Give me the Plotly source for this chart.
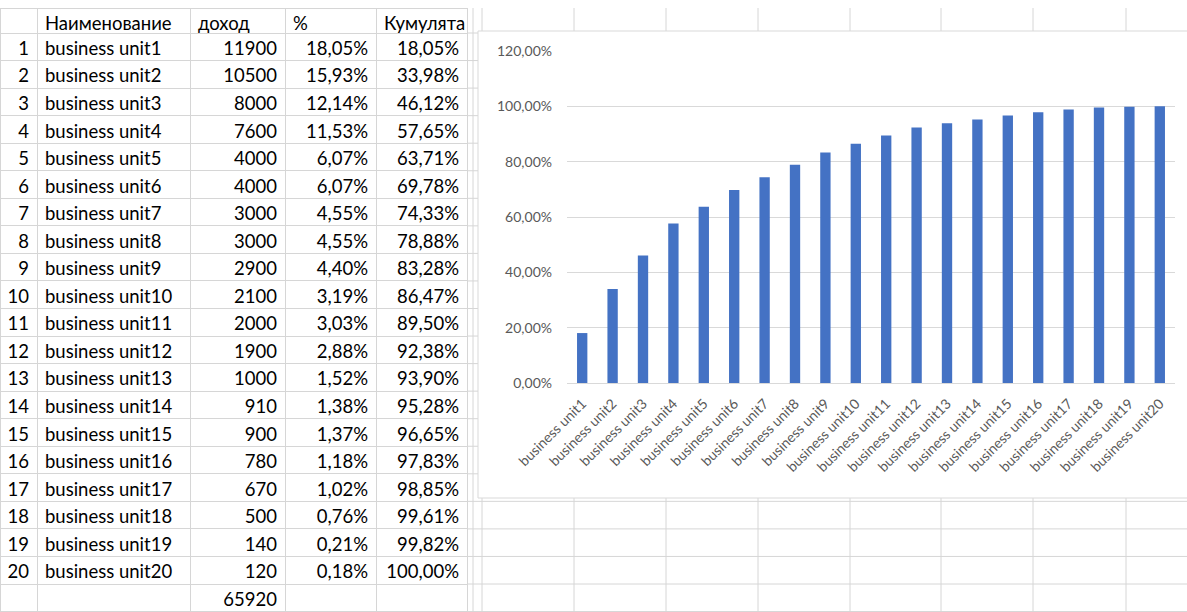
import plotly.graph_objects as go

# ---------------- data ----------------
row_numbers = ["1", "2", "3", "4", "5", "6", "7", "8", "9", "10",
               "11", "12", "13", "14", "15", "16", "17", "18", "19", "20", ""]
units = ["business unit1", "business unit2", "business unit3", "business unit4",
         "business unit5", "business unit6", "business unit7", "business unit8",
         "business unit9", "business unit10", "business unit11", "business unit12",
         "business unit13", "business unit14", "business unit15", "business unit16",
         "business unit17", "business unit18", "business unit19", "business unit20"]
income = [11900, 10500, 8000, 7600, 4000, 4000, 3000, 3000, 2900, 2100,
          2000, 1900, 1000, 910, 900, 780, 670, 500, 140, 120]
income_total = 65920
share_pct = ["18,05%", "15,93%", "12,14%", "11,53%", "6,07%", "6,07%", "4,55%",
             "4,55%", "4,40%", "3,19%", "3,03%", "2,88%", "1,52%", "1,38%",
             "1,37%", "1,18%", "1,02%", "0,76%", "0,21%", "0,18%"]
cumulative_pct = ["18,05%", "33,98%", "46,12%", "57,65%", "63,71%", "69,78%",
                  "74,33%", "78,88%", "83,28%", "86,47%", "89,50%", "92,38%",
                  "93,90%", "95,28%", "96,65%", "97,83%", "98,85%", "99,61%",
                  "99,82%", "100,00%"]
cumulative = [0.1805, 0.3398, 0.4612, 0.5765, 0.6371, 0.6978, 0.7433, 0.7888,
              0.8328, 0.8647, 0.8950, 0.9238, 0.9390, 0.9528, 0.9665, 0.9783,
              0.9885, 0.9961, 0.9982, 1.0000]
headers = ["", "Наименование", "доход", "%", "Кумулята"]
y_ticks = [0, 0.2, 0.4, 0.6, 0.8, 1.0, 1.2]

# ---------------- layout helpers ----------------
W, H = 1187, 612
def px(x):
    return x / W
def py(y):
    return 1 - y / H

GRID = "#d6d6d6"
FONT = "Lato"
TABLE_TOP = 8
HEADER_H = 25
ROW_H = 27.55
TABLE_RIGHT = 467

fig = go.Figure()

# ---------------- spreadsheet table ----------------
fig.add_trace(go.Table(
    domain=dict(x=[0, px(TABLE_RIGHT)], y=[0, py(TABLE_TOP)]),
    columnwidth=[37, 153, 95, 91, 91],
    header=dict(
        values=headers,
        align=["left", "left", "left", "left", "left"],
        fill_color="white",
        line=dict(color=GRID, width=1),
        font=dict(family=FONT, size=18.5, color="black"),
        height=HEADER_H,
    ),
    cells=dict(
        values=[row_numbers,
                units + [""],
                [str(v) for v in income] + [str(income_total)],
                share_pct + [""],
                cumulative_pct + [""]],
        align=["right", "left", "right", "right", "right"],
        fill_color="white",
        line=dict(color=GRID, width=1),
        font=dict(family=FONT, size=18.5, color="black"),
        height=ROW_H,
    ),
))

# ---------------- cumulative bar chart ----------------
fig.add_trace(go.Bar(
    x=units, y=cumulative,
    marker=dict(color="#4472C4", line=dict(width=0)),
    hoverinfo="x+y",
))

shapes = []
# spreadsheet grid to the right of the table
for gx in [473, 482, 574, 666, 758, 850, 941, 1033, 1126]:
    shapes.append(dict(type="line", xref="paper", yref="paper",
                       x0=px(gx), x1=px(gx), y0=py(TABLE_TOP), y1=0,
                       line=dict(color=GRID, width=1), layer="below"))
for k in range(0, 22):
    gy = TABLE_TOP + HEADER_H + k * ROW_H
    shapes.append(dict(type="line", xref="paper", yref="paper",
                       x0=px(TABLE_RIGHT), x1=1, y0=py(gy), y1=py(gy),
                       line=dict(color=GRID, width=1), layer="below"))
# chart area box
shapes.append(dict(type="rect", xref="paper", yref="paper",
                   x0=px(478), x1=px(1190), y0=py(498), y1=py(31),
                   fillcolor="white", line=dict(color="#d9d9d9", width=1),
                   layer="below"))

fig.update_layout(
    width=W, height=H,
    autosize=False,
    margin=dict(l=0, r=0, t=0, b=0, pad=0),
    paper_bgcolor="white",
    plot_bgcolor="rgba(0,0,0,0)",
    separators=", ",
    showlegend=False,
    bargap=0.66,
    shapes=shapes,
    font=dict(family=FONT, color="#595959"),
    xaxis=dict(
        domain=[px(567), px(1175)],
        tickangle=-45,
        tickfont=dict(family=FONT, size=14, color="#595959"),
        showgrid=False,
        showline=True, linecolor="#d9d9d9", linewidth=1,
        ticks="", ticklabelstandoff=6, automargin=False, fixedrange=True,
    ),
    yaxis=dict(
        domain=[py(383), py(51)],
        range=[0, 1.2],
        tickvals=y_ticks,
        tickformat=".2%",
        tickfont=dict(family=FONT, size=14, color="#595959"),
        showgrid=True, gridcolor="#d9d9d9", gridwidth=1,
        zeroline=False, showline=False,
        ticks="", ticklabelstandoff=14, automargin=False, fixedrange=True,
    ),
)

fig.write_html("out.html",
               config={"displayModeBar": False},
               post_script="document.body.style.margin='0';"
                           "document.body.style.overflow='hidden';")
